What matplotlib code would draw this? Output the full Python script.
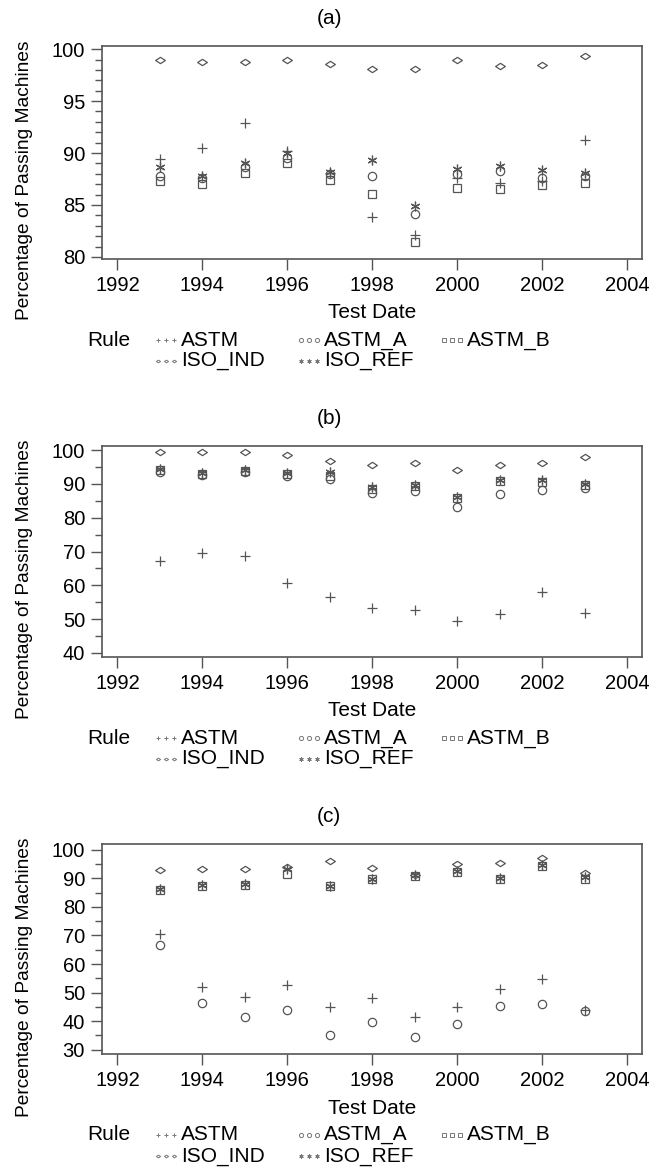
import matplotlib.pyplot as plt
import matplotlib as mpl
from matplotlib.path import Path
from matplotlib.ticker import MultipleLocator

mpl.rcParams['font.family'] = ['Liberation Sans', 'DejaVu Sans']
mpl.rcParams['font.size'] = 14

W, H = 652, 1173

years = [1993, 1994, 1995, 1996, 1997, 1998, 1999, 2000, 2001, 2002, 2003]
rules = ['ASTM', 'ASTM_A', 'ASTM_B', 'ISO_IND', 'ISO_REF']

# panel (a)
a_astm = [89.4, 90.5, 92.9, 90.2, 88.1, 83.8, 82.1, 87.6, 87.1, 87.3, 91.3]
a_astm_a = [87.8, 87.55, 88.7, 89.5, 88.0, 87.8, 84.1, 87.97, 88.3, 87.55, 87.8]
a_astm_b = [87.3, 87.0, 88.1, 89.0, 87.4, 86.05, 81.45, 86.6, 86.5, 86.95, 87.1]
a_iso_ind = [98.97, 98.75, 98.75, 99.0, 98.55, 98.1, 98.04, 98.97, 98.4, 98.5, 99.3]
a_iso_ref = [88.7, 87.8, 89.0, 90.0, 88.2, 89.3, 84.9, 88.45, 88.75, 88.4, 88.1]

# panel (b)
b_astm = [67.1, 69.7, 68.8, 60.7, 56.5, 53.4, 52.7, 49.3, 51.5, 58.0, 51.7]
b_astm_a = [93.6, 92.7, 93.6, 92.4, 91.3, 87.3, 87.8, 83.2, 87.1, 88.1, 88.8]
b_astm_b = [94.0, 92.9, 93.9, 92.9, 92.3, 88.6, 89.3, 85.9, 90.8, 90.6, 89.7]
b_iso_ind = [99.3, 99.3, 99.3, 98.6, 96.7, 95.7, 96.1, 94.1, 95.6, 96.2, 98.0]
b_iso_ref = [94.5, 93.1, 94.2, 93.3, 93.5, 89.0, 89.6, 86.2, 91.1, 91.0, 90.0]

# panel (c)
c_astm = [70.5, 52.0, 48.3, 52.6, 45.1, 48.0, 41.6, 44.9, 51.4, 54.7, 43.9]
c_astm_a = [66.8, 46.4, 41.6, 43.9, 35.3, 39.7, 34.3, 39.1, 45.4, 46.0, 43.6]
c_astm_b = [86.0, 87.4, 87.7, 91.6, 87.2, 89.7, 90.8, 92.3, 89.8, 94.2, 89.9]
c_iso_ind = [93.0, 93.2, 93.3, 94.0, 96.0, 93.6, 91.3, 95.0, 95.2, 97.2, 92.0]
c_iso_ref = [86.2, 87.5, 87.9, 93.2, 87.4, 89.9, 91.0, 92.6, 90.0, 94.6, 90.4]

diamond = Path([(-1, 0), (0, 0.65), (1, 0), (0, -0.65), (-1, 0)],
               [Path.MOVETO, Path.LINETO, Path.LINETO, Path.LINETO, Path.CLOSEPOLY])
styles = {
    'ASTM': dict(marker='+', ms=7, mew=0.9),
    'ASTM_A': dict(marker='o', ms=6, mew=0.9, mfc='none'),
    'ASTM_B': dict(marker='s', ms=6, mew=0.9, mfc='none'),
    'ISO_IND': dict(marker=diamond, ms=7, mew=0.9, mfc='none'),
    'ISO_REF': dict(marker=(6, 2, 0), ms=7, mew=0.9),
}

panels = [
    ('(a)', [a_astm, a_astm_a, a_astm_b, a_iso_ind, a_iso_ref], (79.8, 100.3), 5, 1, 46, 259),
    ('(b)', [b_astm, b_astm_a, b_astm_b, b_iso_ind, b_iso_ref], (38.8, 101.2), 10, 5, 446, 657),
    ('(c)', [c_astm, c_astm_a, c_astm_b, c_iso_ind, c_iso_ref], (28.5, 102.0), 10, 5, 844, 1054),
]

fig = plt.figure(figsize=(W / 100, H / 100), dpi=100)
grey = '#555555'


def fx(p):
    return p / W


def fy(p):
    return 1 - p / H


for title, series, ylim, major, minor, top, bot in panels:
    ax = fig.add_axes([fx(101.7), fy(bot), fx(641.7) - fx(101.7), (bot - top) / H])
    for rule, vals in zip(rules, series):
        ax.plot(years, vals, ls='none', color=grey, **styles[rule])
    ax.set_xlim(1991.63, 2004.34)
    ax.set_ylim(*ylim)
    ax.set_xticks(range(1992, 2005, 2))
    ax.yaxis.set_major_locator(MultipleLocator(major))
    ax.yaxis.set_minor_locator(MultipleLocator(minor))
    for s in ax.spines.values():
        s.set_color(grey)
        s.set_linewidth(1.2)
    ax.tick_params(which='major', length=8, width=1.0, color=grey, labelsize=14.5, pad=4)
    ax.tick_params(axis='y', which='minor', length=5, width=1.0, color=grey)
    ax.tick_params(axis='x', which='minor', length=0)

    fig.text(fx(329), fy(top - 27), title, ha='center', va='center', fontsize=15)
    fig.text(fx(372), fy(bot + 54), 'Test Date', ha='center', va='center', fontsize=15)
    fig.text(fx(25), fy((top + bot) / 2 + 28), 'Percentage of Passing Machines', rotation=90,
             ha='center', va='center', fontsize=13.8)

    # legend
    r1, r2 = bot + 81, bot + 102
    fig.text(fx(87), fy(r1), 'Rule', ha='left', va='center', fontsize=15)
    spots = [(154, r1), (297, r1), (440, r1), (154, r2), (297, r2)]
    for rule, (px, py) in zip(rules, spots):
        st = dict(styles[rule])
        st['ms'] = 3
        st['mew'] = 0.7
        fig.add_artist(plt.Line2D([fx(px + 4), fx(px + 12), fx(px + 20)], [fy(py)] * 3,
                                  transform=fig.transFigure, ls='none', color='#777777', **st))
        fig.text(fx(px + 27), fy(py), rule, ha='left', va='center', fontsize=15)

fig.savefig('out.png', dpi=100)
